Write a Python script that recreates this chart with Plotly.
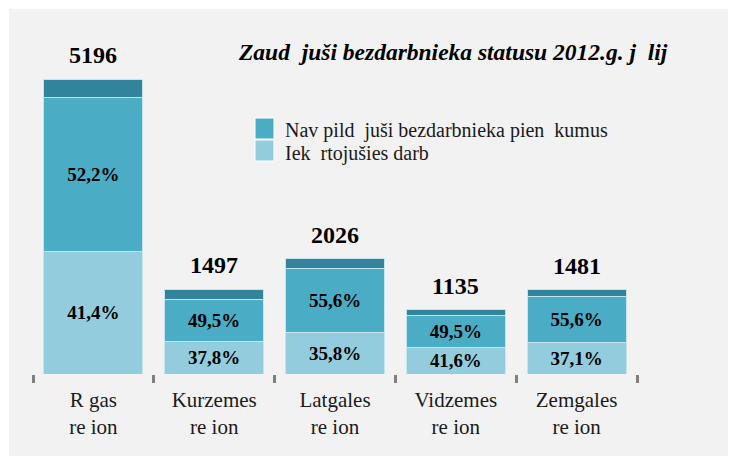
import plotly.graph_objects as go

regions = ["R gas<br>re ion", "Kurzemes<br>re ion", "Latgales<br>re ion", "Vidzemes<br>re ion", "Zemgales<br>re ion"]
totals = [5196, 1497, 2026, 1135, 1481]
pct_found_job = [41.4, 37.8, 35.8, 41.6, 37.1]
pct_not_fulfilled = [52.2, 49.5, 55.6, 49.5, 55.6]
pct_other = [6.4, 12.7, 8.6, 8.9, 7.3]

name_not_fulfilled = "Nav pild  juši bezdarbnieka pien  kumus"
name_found_job = "Iek  rtojušies darb"
title_text = "Zaud  juši bezdarbnieka statusu 2012.g. j  lij"

c_light = "#93cddd"
c_mid = "#4aacc5"
c_dark = "#31849b"
edge = "#c6e4ee"
FONT = "Liberation Serif"

def seg(pcts):
    return [t * p / 100 for t, p in zip(totals, pcts)]

def fmt(p):
    return ("%.1f%%" % p).replace(".", ",")

# figure geometry (page has an 8px body margin)
OFF = 8
W, H = 728, 448
L, R_, T, B = 25, 99, 32, 82
pw, ph = W - L - R_, H - T - B

def xp(x):
    return (x - OFF - L) / pw

def yp(y):
    return (H - B - (y - OFF)) / ph

fig = go.Figure()
fig.add_trace(go.Bar(
    x=regions, y=seg(pct_found_job), name=name_found_job,
    marker=dict(color=c_light, line=dict(color=edge, width=1)),
    text=["<b>" + fmt(p) + "</b>" for p in pct_found_job], textposition="inside",
    insidetextanchor="middle", textangle=0,
    textfont=dict(family=FONT, size=19, color="black"), showlegend=False, hoverinfo="skip"))
fig.add_trace(go.Bar(
    x=regions, y=seg(pct_not_fulfilled), name=name_not_fulfilled,
    marker=dict(color=c_mid, line=dict(color=edge, width=1)),
    text=["<b>" + fmt(p) + "</b>" for p in pct_not_fulfilled], textposition="inside",
    insidetextanchor="middle", textangle=0,
    textfont=dict(family=FONT, size=19, color="black"), showlegend=False, hoverinfo="skip"))
fig.add_trace(go.Bar(
    x=regions, y=seg(pct_other), marker=dict(color=c_dark, line=dict(color=edge, width=1)),
    showlegend=False, hoverinfo="skip"))

for r, t in zip(regions, totals):
    fig.add_annotation(x=r, y=t, text="<b>%d</b>" % t, showarrow=False, yanchor="middle",
                       yshift=24, font=dict(family=FONT, size=24, color="black"))

fig.add_annotation(xref="paper", yref="paper", x=xp(453), y=yp(52), text="<b><i>" + title_text + "</i></b>",
                   showarrow=False, xanchor="center", yanchor="middle",
                   font=dict(family=FONT, size=23.5, color="black"))

# manual legend
legend_items = [(name_not_fulfilled, c_mid, 118, 139, 130), (name_found_job, c_light, 140, 161, 153)]
for name, col, ya, yb, yt in legend_items:
    fig.add_shape(type="rect", xref="paper", yref="paper", x0=xp(255), x1=xp(274), y0=yp(yb), y1=yp(ya),
                  fillcolor=col, line=dict(color="white", width=1))
    fig.add_annotation(xref="paper", yref="paper", x=xp(283), y=yp(yt), text=name, showarrow=False,
                       xanchor="left", yanchor="middle", font=dict(family=FONT, size=20, color="#1a1a1a"))

# grey panel
fig.add_shape(type="rect", xref="paper", yref="paper", layer="below",
              x0=xp(9), x1=xp(740), y0=yp(460), y1=yp(9),
              fillcolor="#f2f2f2", line=dict(width=0))

fig.update_layout(
    width=W, height=H, barmode="stack", bargap=0.18, showlegend=False,
    margin=dict(l=L, r=R_, t=T, b=B, pad=0),
    paper_bgcolor="white", plot_bgcolor="rgba(0,0,0,0)",
    font=dict(family=FONT, color="#1a1a1a"),
    xaxis=dict(type="category", ticks="outside", tickson="boundaries", ticklen=8, tickwidth=3,
               tickcolor="#7f7f7f", showline=False, showgrid=False, zeroline=False,
               ticklabelstandoff=11,
               tickfont=dict(family=FONT, size=21, color="#1a1a1a")),
    yaxis=dict(range=[0, 5883], visible=False, showgrid=False, zeroline=False),
)

fig.write_html("out.html")
